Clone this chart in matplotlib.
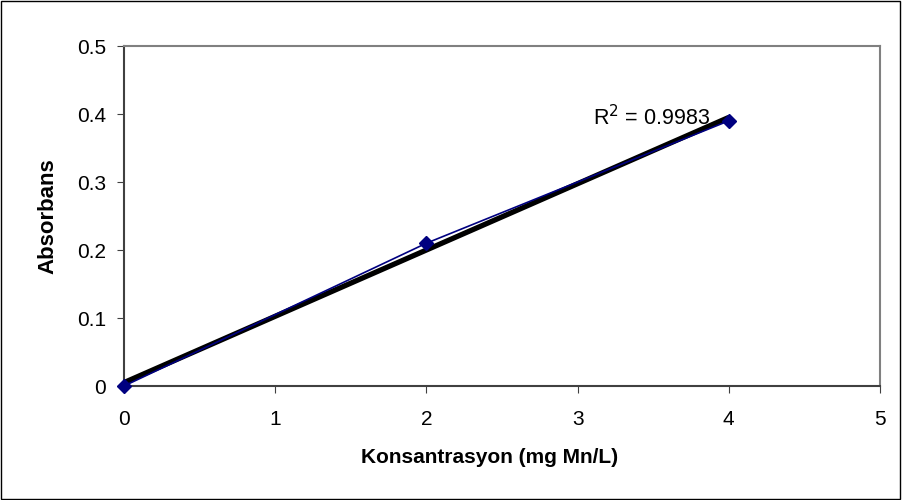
import matplotlib
matplotlib.use("Agg")
import matplotlib.pyplot as plt
import numpy as np
from matplotlib.patches import Rectangle

plt.rcParams['font.family'] = ['Liberation Sans', 'DejaVu Sans']

conc = [0, 2, 4]
absorb = [0.0, 0.21, 0.39]
r2_label = "R$^2$ = 0.9983"
xticks = [0, 1, 2, 3, 4, 5]
yticks = [0, 0.1, 0.2, 0.3, 0.4, 0.5]

fig = plt.figure(figsize=(9.02, 5.0), dpi=100)
ax = fig.add_axes([124/902, 1-386/500, (880-124)/902, (386-46)/500])

# trendline (linear fit)
slope, intercept = np.polyfit(conc, absorb, 1)
xt = np.array([min(conc), max(conc)])
ax.plot(xt, slope*xt + intercept, color='black', lw=3.8, zorder=2, solid_capstyle='butt')
ax.plot(conc, absorb, color='#000080', lw=1.2, marker='D', ms=7.5, mfc='#000080', mec='#000080', zorder=3, clip_on=False)

ax.text(3.1, 0.384, r2_label, fontsize=15.5, va='baseline', ha='left')

ax.set_xlim(0, 5)
ax.set_ylim(0, 0.5)
ax.set_xticks(xticks)
ax.set_xticklabels([str(v) for v in xticks])
ax.set_yticks(yticks)
ax.set_yticklabels(['0', '0.1', '0.2', '0.3', '0.4', '0.5'])
ax.tick_params(direction='out', length=5, width=0.8, labelsize=15, color='#404040', pad=8)
ax.tick_params(axis='x', pad=12)
for s in ['left', 'bottom']:
    ax.spines[s].set_color('#404040')
    ax.spines[s].set_linewidth(1.5)
for s in ['top', 'right']:
    ax.spines[s].set_color('#808080')
    ax.spines[s].set_linewidth(1.5)

ax.set_xlabel('Konsantrasyon (mg Mn/L)', fontsize=15, fontweight='bold')
ax.xaxis.set_label_coords((490-124)/(880-124), -(448-386)/340, transform=ax.transAxes)
ax.xaxis.label.set_va('top')
ax.set_ylabel('Absorbans', fontsize=16, fontweight='bold')
ax.yaxis.set_label_coords(-(124-58)/(880-124), 0.5, transform=ax.transAxes)

fig.patches.append(Rectangle((0.001, 0.002), 0.997, 0.996, transform=fig.transFigure,
                             fill=False, edgecolor='black', lw=1))

fig.savefig('out.png', dpi=100)
